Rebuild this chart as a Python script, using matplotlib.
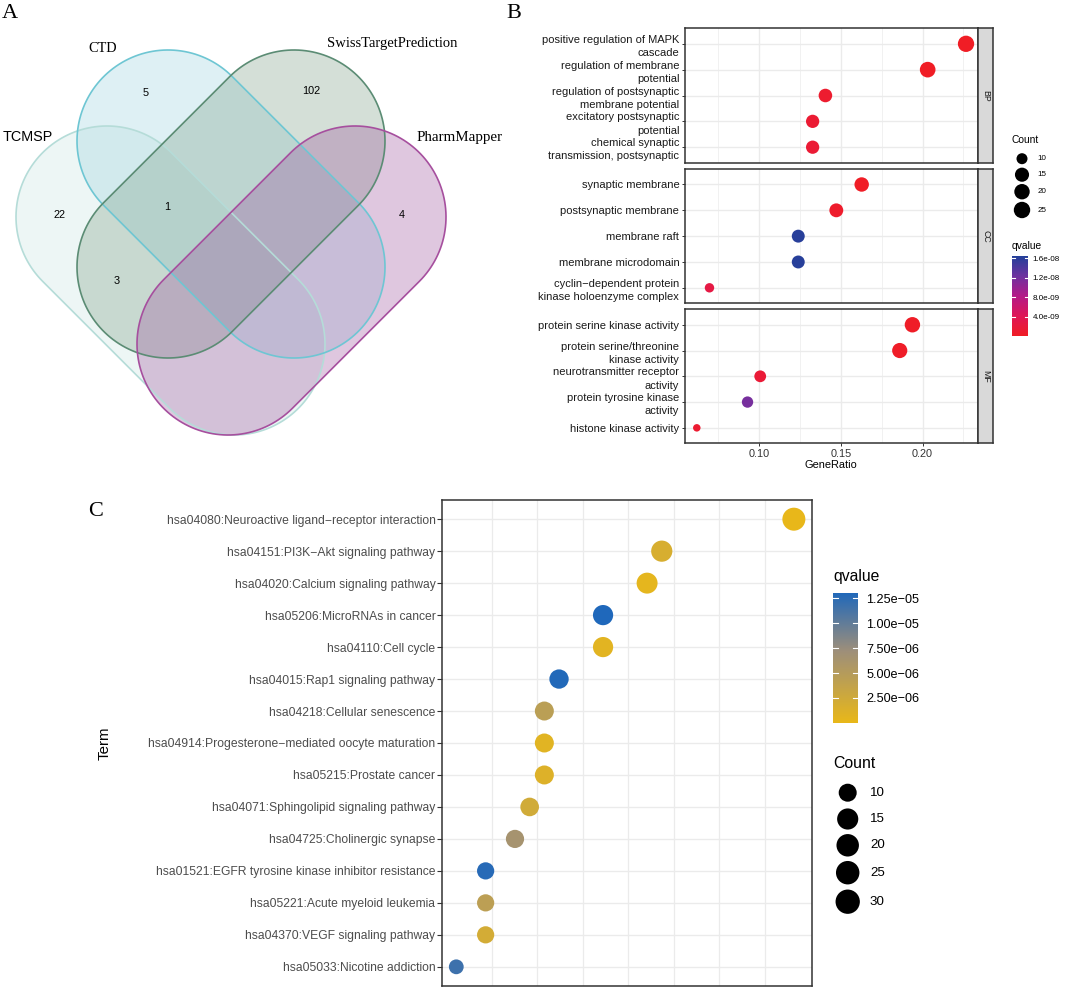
import numpy as np
import matplotlib
matplotlib.use("Agg")
import matplotlib.pyplot as plt
from matplotlib.patches import Polygon
from matplotlib.colors import LinearSegmentedColormap, Normalize

W, H = 1065, 990
SANS = "Liberation Sans"
SERIF = "Liberation Serif"

# ---- panel A: Venn counts ----
venn_sets = ["TCMSP", "CTD", "SwissTargetPrediction", "PharmMapper"]
venn_counts = {"TCMSP": 22, "CTD": 5, "Swiss": 102, "Pharm": 4,
               "TCMSP&CTD&Swiss": 1, "TCMSP&Swiss": 3}

# ---- panel B: GO enrichment ----
bp_terms = ["positive regulation of MAPK\ncascade", "regulation of membrane\npotential",
            "regulation of postsynaptic\nmembrane potential", "excitatory postsynaptic\npotential",
            "chemical synaptic\ntransmission, postsynaptic"]
bp_count = [29, 26, 18, 17, 17]
bp_ratio = [29/128, 26/128, 18/128, 17/128, 17/128]
bp_q = [5.1e-13, 2.3e-12, 8.9e-10, 1.2e-09, 1.3e-09]

cc_terms = ["synaptic membrane", "postsynaptic membrane", "membrane raft", "membrane microdomain",
            "cyclin\u2212dependent protein\nkinase holoenzyme complex"]
cc_count = [21, 19, 16, 16, 9]
cc_ratio = [21/129, 19/129, 16/129, 16/129, 9/129]
cc_q = [1.1e-10, 6.4e-10, 1.62e-08, 1.63e-08, 2.6e-09]

mf_terms = ["protein serine kinase activity", "protein serine/threonine\nkinase activity",
            "neurotransmitter receptor\nactivity", "protein tyrosine kinase\nactivity",
            "histone kinase activity"]
mf_count = [25, 24, 13, 12, 8]
mf_ratio = [25/129, 24/129, 13/129, 12/129, 8/129]
mf_q = [1.9e-10, 3.1e-10, 1.5e-09, 1.18e-08, 1.0e-09]

b_q_ticks = [4.0e-09, 8.0e-09, 1.2e-08, 1.6e-08]
b_q_labels = ["4.0e-09", "8.0e-09", "1.2e-08", "1.6e-08"]
b_count_breaks = [10, 15, 20, 25]

# ---- panel C: KEGG enrichment ----
kegg_terms = ["hsa04080:Neuroactive ligand\u2212receptor interaction",
              "hsa04151:PI3K\u2212Akt signaling pathway",
              "hsa04020:Calcium signaling pathway",
              "hsa05206:MicroRNAs in cancer",
              "hsa04110:Cell cycle",
              "hsa04015:Rap1 signaling pathway",
              "hsa04218:Cellular senescence",
              "hsa04914:Progesterone\u2212mediated oocyte maturation",
              "hsa05215:Prostate cancer",
              "hsa04071:Sphingolipid signaling pathway",
              "hsa04725:Cholinergic synapse",
              "hsa01521:EGFR tyrosine kinase inhibitor resistance",
              "hsa05221:Acute myeloid leukemia",
              "hsa04370:VEGF signaling pathway",
              "hsa05033:Nicotine addiction"]
kegg_count = [33, 24, 23, 20, 20, 17, 16, 16, 16, 15, 14, 12, 12, 12, 10]
kegg_ratio = [c / 124 for c in kegg_count]
kegg_q = [1.2e-07, 1.7e-06, 4.0e-07, 1.31e-05, 7.0e-07, 1.29e-05, 4.5e-06, 8.0e-07,
          1.2e-06, 2.4e-06, 6.4e-06, 1.27e-05, 4.4e-06, 2.2e-06, 1.17e-05]
c_q_ticks = [2.5e-06, 5.0e-06, 7.5e-06, 1.0e-05, 1.25e-05]
c_q_labels = ["2.50e\u221206", "5.00e\u221206", "7.50e\u221206", "1.00e\u221205", "1.25e\u221205"]
c_count_breaks = [10, 15, 20, 25, 30]

cmap_b = LinearSegmentedColormap.from_list(
    "rb", [(0, "#f01d25"), (0.25, "#df1657"), (0.5, "#b41a88"), (0.75, "#6e32a0"), (1, "#23409a")])
norm_b = Normalize(0, 1.65e-08)
cmap_c = LinearSegmentedColormap.from_list(
    "gb", [(0, "#e9b819"), (0.55, "#9e8f7a"), (1, "#1f68bb")])
norm_c = Normalize(0, 1.31e-05)


def rect(l, t, r, b):
    return fig.add_axes([l / W, 1 - b / H, (r - l) / W, (b - t) / H])


def area(c, cmin, cmax, dmin, dmax):
    d = dmin + (dmax - dmin) * np.sqrt((np.asarray(c, float) - cmin) / (cmax - cmin))
    return (d * 0.72) ** 2


def stadium(c1, c2, r, **kw):
    c1, c2 = np.array(c1, float), np.array(c2, float)
    d = c2 - c1
    th = np.arctan2(d[1], d[0])
    a1 = np.linspace(th - np.pi / 2, th + np.pi / 2, 80)
    a2 = np.linspace(th + np.pi / 2, th + 3 * np.pi / 2, 80)
    pts = np.vstack([c2 + r * np.column_stack([np.cos(a1), np.sin(a1)]),
                     c1 + r * np.column_stack([np.cos(a2), np.sin(a2)])])
    return Polygon(pts, closed=True, **kw)


fig = plt.figure(figsize=(W / 100, H / 100), dpi=100)
bg = fig.add_axes([0, 0, 1, 1])
bg.set_xlim(0, W)
bg.set_ylim(H, 0)
bg.axis("off")

# ---------------- Panel A ----------------
shapes = [((107, 217), (234, 344), "#c6e4de", "#b5dcd8"),
          ((168, 141), (294, 267), "#94d0dd", "#6ec6d3"),
          ((294, 141), (168, 267), "#73987d", "#5b8c74"),
          ((355, 217), (228, 344), "#984898", "#a64f9e")]
for c1, c2, fc, ec in shapes:
    bg.add_patch(stadium(c1, c2, 91, facecolor=fc, alpha=0.3, edgecolor="none"))
for c1, c2, fc, ec in shapes:
    bg.add_patch(stadium(c1, c2, 91, facecolor="none", edgecolor=ec, lw=1.2))

bg.text(28, 137, venn_sets[0], fontsize=10.4, family=SANS, ha="center", va="center")
bg.text(103, 49, venn_sets[1], fontsize=10.3, family=SERIF, ha="center", va="center")
bg.text(392, 44, venn_sets[2], fontsize=10.5, family=SERIF, ha="center", va="center")
bg.text(460, 137, venn_sets[3], fontsize=10.8, family=SERIF, ha="center", va="center")
num_pos = {"TCMSP": (60, 215), "CTD": (146, 93), "Swiss": (311, 91), "Pharm": (402, 215),
           "TCMSP&CTD&Swiss": (167, 207), "TCMSP&Swiss": (117, 281)}
for k, v in venn_counts.items():
    bg.text(*num_pos[k], str(v), fontsize=7.8, family=SANS, ha="center", va="center")

bg.text(10, 14, "A", fontsize=16, family=SERIF, ha="center", va="center")
bg.text(514, 14, "B", fontsize=16, family=SERIF, ha="center", va="center")
bg.text(96, 512, "C", fontsize=16, family=SERIF, ha="center", va="center")

# ---------------- Panel B ----------------
facets = [("BP", bp_terms, bp_ratio, bp_count, bp_q, 28.3, 162.7),
          ("CC", cc_terms, cc_ratio, cc_count, cc_q, 169.0, 303.3),
          ("MF", mf_terms, mf_ratio, mf_count, mf_q, 309.3, 443.3)]
xl, xr, sr = 684.5, 977.7, 993.3
for i, (name, terms, ratio, count, q, t, b) in enumerate(facets):
    ax = rect(xl, t, xr, b)
    ax.set_xlim(0.0545, 0.2337)
    ax.set_ylim(4.6, -0.6)
    for g in [0.075, 0.125, 0.175, 0.225]:
        ax.axvline(g, color="#ebebeb", lw=0.5, zorder=0)
    for g in [0.10, 0.15, 0.20]:
        ax.axvline(g, color="#ebebeb", lw=1.0, zorder=0)
    for yy in range(len(terms)):
        ax.axhline(yy, color="#ebebeb", lw=1.0, zorder=0)
    ax.scatter(ratio, range(len(terms)), s=area(count, 8, 29, 7.5, 16.3),
               c=q, cmap=cmap_b, norm=norm_b, edgecolors="none", zorder=3)
    ax.set_yticks(range(len(terms)))
    ax.set_yticklabels(terms, fontsize=8, family=SANS, color="#1a1a1a", linespacing=1.4)
    ax.tick_params(axis="y", length=2.5, width=0.7, color="#333333", pad=1.2)
    if i == 2:
        ax.set_xticks([0.10, 0.15, 0.20])
        ax.set_xticklabels(["0.10", "0.15", "0.20"], fontsize=7.8, family=SANS, color="#333333")
        ax.tick_params(axis="x", length=2.5, width=0.7, color="#333333", pad=1.5)
        ax.set_xlabel("GeneRatio", fontsize=7.9, family=SANS, labelpad=1)
    else:
        ax.set_xticks([])
    for sp in ax.spines.values():
        sp.set_color("#333333")
        sp.set_linewidth(1.1)
    st = rect(xr, t, sr, b)
    st.set_facecolor("#d9d9d9")
    st.set_xticks([])
    st.set_yticks([])
    for sp in st.spines.values():
        sp.set_color("#333333")
        sp.set_linewidth(1.1)
    st.text(0.5, 0.5, name, rotation=-90, fontsize=6.3, family=SANS, color="#1a1a1a",
            ha="center", va="center", transform=st.transAxes)

# legend B: Count
bg.text(1012, 140, "Count", fontsize=7.4, family=SANS, ha="left", va="center")
b_leg_y = [158.7, 174.7, 191.7, 210]
bg.scatter([1022] * 4, b_leg_y, s=area(b_count_breaks, 10, 25, 11, 16.4), c="black",
           edgecolors="none")
for yy, lab in zip(b_leg_y, b_count_breaks):
    bg.text(1037.8, yy, str(lab), fontsize=5.8, family=SANS, ha="left", va="center")

# legend B: qvalue colorbar
bg.text(1012, 246, "qvalue", fontsize=7.4, family=SANS, ha="left", va="center")


def colorbar(l, t, r, b, cmap, norm, ticks, labels, fs, pad):
    cax = rect(l, t, r, b)
    grad = np.linspace(norm.vmin, norm.vmax, 256)[:, None]
    cax.imshow(grad, aspect="auto", cmap=cmap, norm=norm, origin="lower",
               extent=[0, 1, norm.vmin, norm.vmax])
    cax.set_xlim(0, 1)
    cax.set_ylim(norm.vmin, norm.vmax)
    for tv in ticks:
        cax.plot([0, 0.2], [tv, tv], color="white", lw=0.8)
        cax.plot([0.8, 1], [tv, tv], color="white", lw=0.8)
    cax.set_xticks([])
    cax.yaxis.tick_right()
    cax.set_yticks(ticks)
    cax.set_yticklabels(labels, fontsize=fs, family=SANS)
    cax.tick_params(axis="y", length=0, pad=pad)
    for sp in cax.spines.values():
        sp.set_visible(False)


colorbar(1012, 256, 1028, 336, cmap_b, norm_b, b_q_ticks, b_q_labels, 5.8, 3.2)

# ---------------- Panel C ----------------
axc = rect(442, 500, 812.2, 986)
axc.set_xlim(0.0728, 0.2762)
n = len(kegg_terms)
axc.set_ylim(n - 1 + 0.6, -0.6)
for g in np.arange(0.1, 0.26, 0.025):
    axc.axvline(g, color="#ebebeb", lw=0.9, zorder=0)
for yy in range(n):
    axc.axhline(yy, color="#ebebeb", lw=1.0, zorder=0)
axc.scatter(kegg_ratio, range(n), s=area(kegg_count, 10, 33, 14.8, 23),
            c=kegg_q, cmap=cmap_c, norm=norm_c, edgecolors="none", zorder=3)
axc.set_yticks(range(n))
axc.set_yticklabels(kegg_terms, fontsize=8.7, family=SANS, color="#4d4d4d")
axc.tick_params(axis="y", length=3.5, width=0.8, color="#333333", pad=1.2)
axc.set_xticks([])
axc.set_ylabel("Term", fontsize=10.8, family=SANS, labelpad=0)
axc.yaxis.set_label_coords((111.5 - 442) / (812.2 - 442), 0.5)
for sp in axc.spines.values():
    sp.set_color("#333333")
    sp.set_linewidth(1.1)

bg.text(833, 577, "qvalue", fontsize=11.3, family=SANS, ha="left", va="center")
colorbar(833, 592.5, 858, 722.7, cmap_c, norm_c, c_q_ticks, c_q_labels, 9.1, 6)

bg.text(833, 764, "Count", fontsize=11.4, family=SANS, ha="left", va="center")
c_leg_y = [792.7, 819, 845.3, 872.7, 901.7]
bg.scatter([847.7] * 5, c_leg_y, s=area(c_count_breaks, 10, 30, 18, 24.3), c="black",
           edgecolors="none")
for yy, lab in zip(c_leg_y, c_count_breaks):
    bg.text(870, yy, str(lab), fontsize=9.6, family=SANS, ha="left", va="center")

fig.savefig("out.png", dpi=100)
